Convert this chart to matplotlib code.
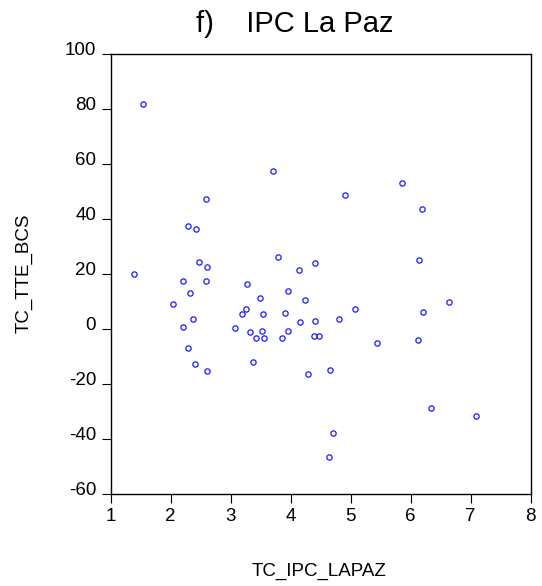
import matplotlib
matplotlib.use("Agg")
import matplotlib.pyplot as plt
from matplotlib.transforms import ScaledTranslation

# TC_IPC_LAPAZ (x) vs TC_TTE_BCS (y)
tc_ipc_lapaz = [
    1.53, 3.705, 2.59, 2.29, 2.42, 2.47, 2.61, 3.79, 4.13, 1.39,
    5.85, 4.905, 6.19, 6.13, 4.40, 2.20, 2.59, 3.27, 2.32, 3.49,
    3.955, 4.24, 2.04, 3.26, 3.19, 3.53, 3.90, 2.37, 4.155, 2.20,
    3.07, 3.32, 3.52, 3.96, 3.42, 3.555, 3.86, 2.29, 3.37, 2.405,
    2.61, 4.29, 4.41, 4.80, 5.07, 4.38, 4.47, 5.43, 6.20, 6.64,
    6.12, 4.65, 6.33, 7.09, 4.705, 4.64,
]
tc_tte_bcs = [
    81.9, 57.3, 47.3, 37.6, 36.2, 24.4, 22.5, 26.3, 21.3, 19.9,
    53.2, 48.8, 43.5, 25.0, 24.1, 17.6, 17.6, 16.3, 13.2, 11.4,
    13.9, 10.7, 9.2, 7.3, 5.6, 5.45, 5.8, 3.5, 2.5, 0.6,
    0.36, -1.2, -0.6, -0.7, -3.2, -3.3, -3.2, -7.0, -12.1, -12.6,
    -15.3, -16.3, 2.9, 3.6, 7.2, -2.5, -2.5, -5.2, 6.2, 9.9,
    -3.9, -14.9, -28.6, -31.5, -37.8, -46.7,
]
x_ticks = [1, 2, 3, 4, 5, 6, 7, 8]
y_ticks = [-60, -40, -20, 0, 20, 40, 60, 80, 100]

plt.rcParams["font.family"] = ["Liberation Sans", "DejaVu Sans"]
plt.rcParams["axes.unicode_minus"] = False

W, H = 542, 586
fig = plt.figure(figsize=(W / 100, H / 100), dpi=100)
ax = fig.add_axes([110.7 / W, 1 - 494 / H, 420 / W, 440 / H])

ax.plot(tc_ipc_lapaz, tc_tte_bcs, linestyle="none", marker="o",
        markersize=3.8, markerfacecolor="none", markeredgecolor="#1a1aff",
        markeredgewidth=0.9)

ax.set_xlim(1, 8)
ax.set_ylim(-60, 100)
ax.set_xticks(x_ticks)
ax.set_yticks(y_ticks)
ax.tick_params(direction="out", length=6.5, width=0.8, labelsize=13.5,
               colors="black")
ax.tick_params(axis="x", pad=3.5)
ax.tick_params(axis="y", pad=4)
# EViews draws the y labels a little above their ticks
shift = ScaledTranslation(0, 4.3 / 72, fig.dpi_scale_trans)
for lab in ax.get_yticklabels():
    lab.set_transform(lab.get_transform() + shift)
for s in ax.spines.values():
    s.set_linewidth(1.0)
    s.set_color("black")

fig.text(295 / W, 1 - 31.7 / H, "f)    IPC La Paz", ha="center", va="baseline",
         fontsize=21)
fig.text(319 / W, 1 - 576 / H, "TC_IPC_LAPAZ", ha="center", va="baseline",
         fontsize=13.5)
fig.text(24.5 / W, 1 - 273.5 / H, "TC_TTE_BCS", ha="center", va="center",
         rotation=90, fontsize=13.5)

fig.savefig("out.png", dpi=100, facecolor="white")
